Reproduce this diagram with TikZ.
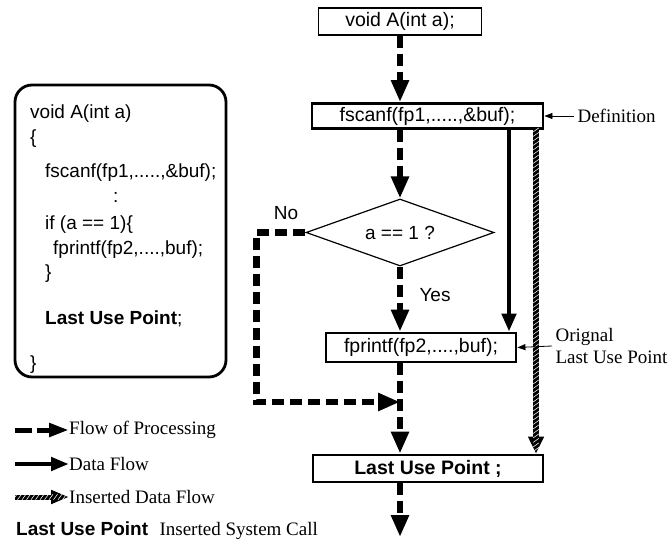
\documentclass[tikz,border=0pt]{standalone}
\usepackage{fontspec}
\setmainfont{Liberation Serif}
\setsansfont{Liberation Sans}
\usetikzlibrary{shapes.geometric, positioning, arrows.meta, decorations.markings}

\tikzset{
    hatch/.style={postaction={decorate, decoration={markings,
        mark=between positions 0 and 1 step 4.5pt with {\draw[white, line width=0.55pt, -] (-#1*2,-2.8) -- (#1*2,2.8);}}}},
    hatch/.default=1
}

\begin{document}
\begin{tikzpicture}[x=1pt, y=-1pt,
    box/.style={draw, line width=1.2pt, inner sep=0pt, minimum height=27pt, font=\sffamily\fontsize{19.5}{22}\selectfont},
    thickbox/.style={box, line width=2.8pt},
    flow/.style={line width=6.5pt, dash pattern=on 12pt off 6pt, -{Triangle[width=17pt,length=22pt]}},
    dflow/.style={line width=4.5pt, -{Triangle[width=14pt,length=18pt]}},
    iflow/.style={line width=6.5pt, -{Triangle[width=15pt,length=17pt]}, hatch},
    note/.style={line width=0.8pt, -{Triangle[width=6pt,length=8pt]}},
    lbl/.style={font=\fontsize{19}{22}\selectfont},
    sans/.style={font=\sffamily\fontsize{19}{22}\selectfont},
    code/.style={sans, anchor=base west, inner sep=0pt}]
    \useasboundingbox (0,0) rectangle (668,540);

    % Source code
    \node[draw, rounded corners=17pt, line width=2.8pt, minimum width=211pt, minimum height=292pt] (code) at (120.5,231) {};
    \node[code] (c1) at (30,119) {void A(int a)};
    \node[code] (c2) at (30,143) {\{};
    \node[code] (c3) at (45,177) {fscanf(fp1,.....,\&buf);};
    \node[code] (c4) at (113,202) {:};
    \node[code] (c5) at (45,229) {if (a == 1)\{};
    \node[code] (c6) at (53,254) {fprintf(fp2,....,buf);};
    \node[code] (c7) at (45,278) {\}};
    \node[code] (c8) at (45,324) {\textbf{Last Use Point};};
    \node[code] (c9) at (30,369) {\}};

    % Flow chart
    \node[box, minimum width=163pt] (decl) at (400,21.5) {void A(int a);};
    \node[thickbox, minimum width=231pt, minimum height=25pt] (scan) at (427.5,116) {fscanf(fp1,.....,\&buf);};
    \node[draw, diamond, line width=1.2pt, inner sep=0pt, aspect=2.8, minimum width=188pt, minimum height=67pt, sans] (cond) at (400,232.5) {a == 1 ?};
    \node[thickbox, minimum width=190pt, minimum height=29pt] (print) at (421,347.5) {fprintf(fp2,....,buf);};
    \node[thickbox, minimum width=230pt, minimum height=27pt] (lup) at (428,468.5) {\textbf{Last Use Point ;}};
    \node[sans, anchor=west] (yes) at (416,295) {Yes};
    \node[sans] (no) at (286,213) {No};
    \node[lbl, anchor=west] (defn) at (574,116) {Definition};
    \node[lbl, anchor=west, align=left] (orig) at (552,346) {Orignal\\Last Use Point};

    \coordinate (dcol) at (509,0);
    \coordinate (icol) at (536,0);
    \coordinate (join) at (400,402);
    \coordinate (exit) at (400,537);

    % Flow of processing
    \draw[flow] (decl.south) -- (decl.south |- scan.north);
    \draw[flow] (scan.south -| cond.north) -- (cond.north);
    \draw[flow] (cond.south) -- (cond.south |- print.north);
    \draw[flow] (print.south -| cond.south) -- (lup.north -| cond.south);
    \draw[flow] (lup.south -| cond.south) -- (exit);
    \draw[flow] (cond.west) -- ++(-49,0) |- (join);

    % Data flow
    \draw[dflow] (scan.south -| dcol) -- (print.north -| dcol);
    \draw[iflow] (scan.south -| icol) -- (lup.north -| icol);
    \draw[note] (defn.west) -- (scan.east);
    \draw[note] (orig.west) -- (print.east);

    % Legend
    \node[lbl, anchor=west, inner sep=0pt] (lg1) at (69,430) {Flow of Processing};
    \node[lbl, anchor=west, inner sep=0pt] (lg2) at (69,464) {Data Flow};
    \node[lbl, anchor=west, inner sep=0pt] (lg3) at (69,497) {Inserted Data Flow};
    \coordinate (l1) at (15,430);
    \coordinate (l2) at (15,464);
    \coordinate (l3) at (15,497);
    \draw[line width=5pt, dash pattern=on 17pt off 5pt, -{Triangle[width=13pt,length=20pt]}] (l1) -- (lg1.west);
    \draw[line width=4.5pt, -{Triangle[width=13pt,length=18pt]}] (l2) -- (lg2.west);
    \draw[line width=5pt, -{Triangle[width=13pt,length=18pt]}, hatch=-1] (l3) -- (lg3.west);
    \node[font=\sffamily\bfseries\fontsize{19}{22}\selectfont, anchor=base west, inner sep=0pt] (lgl) at (16,535) {Last Use Point};
    \node[lbl, inner sep=0pt, right=11pt of lgl.base east, anchor=base west] (lgt) {Inserted System Call};
\end{tikzpicture}
\end{document}
